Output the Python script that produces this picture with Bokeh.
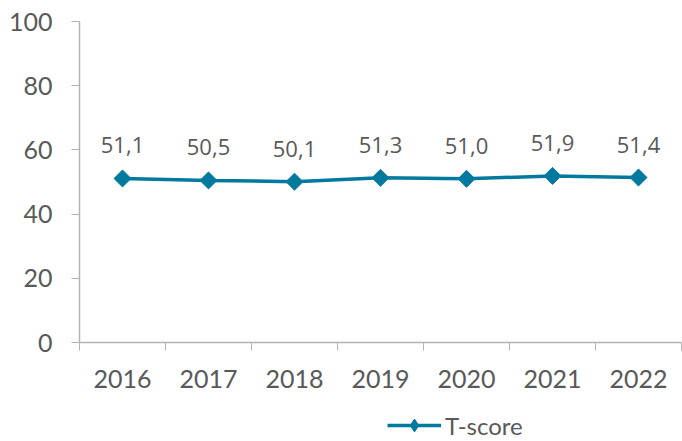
import math
from bokeh.plotting import figure
from bokeh.layouts import column
from bokeh.models import (ColumnDataSource, FixedTicker, Range1d, Legend, LegendItem)
from bokeh.core.properties import value
from bokeh.embed import file_html
from bokeh.resources import INLINE

years = ["2016", "2017", "2018", "2019", "2020", "2021", "2022"]
tscore = [51.1, 50.5, 50.1, 51.3, 51.0, 51.9, 51.4]
y_ticks = [0, 20, 40, 60, 80, 100]
series_name = "T-score"

LINE = "#00799F"
TXT = "#595959"
AX = "#B3B3B3"

xpos = [i + 0.5 for i in range(len(years))]
labels = [f"{v:.1f}".replace(".", ",") for v in tscore]
src = ColumnDataSource(dict(x=xpos, y=tscore, lab=labels))

p = figure(width=682, height=400, output_backend="svg", toolbar_location=None,
           x_range=Range1d(0, len(years)), y_range=Range1d(0, 100),
           min_border_left=79, min_border_right=1, min_border_top=21,
           min_border_bottom=58)
p.outline_line_color = None
p.grid.grid_line_color = None

line_style = dict(line_color=LINE, line_width=3.5)
mark_style = dict(marker="square", angle=math.pi / 4, size=12,
                  fill_color=LINE, line_color=LINE)

p.line("x", "y", source=src, **line_style)
p.scatter("x", "y", source=src, **mark_style)
p.text("x", "y", text="lab", source=src, text_align="center",
       text_baseline="middle", y_offset=-33, text_color=TXT,
       text_font=value("Open Sans"), text_font_size="22px")

# x axis
xa = p.xaxis[0]
xa.ticker = FixedTicker(ticks=xpos, minor_ticks=list(range(len(years) + 1)))
xa.major_label_overrides = {x: y for x, y in zip(xpos, years)}
xa.major_tick_line_color = None
xa.major_tick_out = 0
xa.major_tick_in = 0
xa.minor_tick_line_color = AX
xa.minor_tick_out = 8
xa.minor_tick_in = 0
xa.axis_line_color = AX
xa.axis_line_width = 1.5
xa.major_label_text_font = "Lato"
xa.major_label_text_font_size = "25px"
xa.major_label_text_color = TXT
xa.major_label_standoff = 19

# y axis
ya = p.yaxis[0]
ya.ticker = FixedTicker(ticks=y_ticks)
ya.minor_tick_line_color = None
ya.major_tick_line_color = AX
ya.major_tick_out = 8
ya.major_tick_in = 0
ya.axis_line_color = AX
ya.axis_line_width = 1.5
ya.major_label_text_font = "Lato"
ya.major_label_text_font_size = "25px"
ya.major_label_text_color = TXT
ya.major_label_standoff = 19

# legend strip below the chart (its own glyphs sit outside its visible range)
p2 = figure(width=682, height=41, output_backend="svg", toolbar_location=None,
            x_range=Range1d(0, 1), y_range=Range1d(-2, -1),
            x_axis_type=None, y_axis_type=None,
            min_border_left=79, min_border_right=1, min_border_top=0,
            min_border_bottom=0)
p2.grid.grid_line_color = None
p2.outline_line_color = None
ln2 = p2.line("x", "y", source=src, **line_style)
sc2 = p2.scatter("x", "y", source=src, marker="diamond", size=12,
                 fill_color=LINE, line_color=LINE)
legend = Legend(items=[LegendItem(label=series_name, renderers=[ln2, sc2], index=0)],
                orientation="horizontal", location=(308, 0),
                glyph_width=54, glyph_height=32, label_standoff=4,
                label_height=18,
                label_text_font="Lato", label_text_font_size="24px",
                label_text_color=TXT, border_line_color=None,
                background_fill_alpha=0, padding=0, margin=0)
p2.add_layout(legend)

open("out.html", "w").write(file_html(column(p, p2, spacing=0), INLINE))
